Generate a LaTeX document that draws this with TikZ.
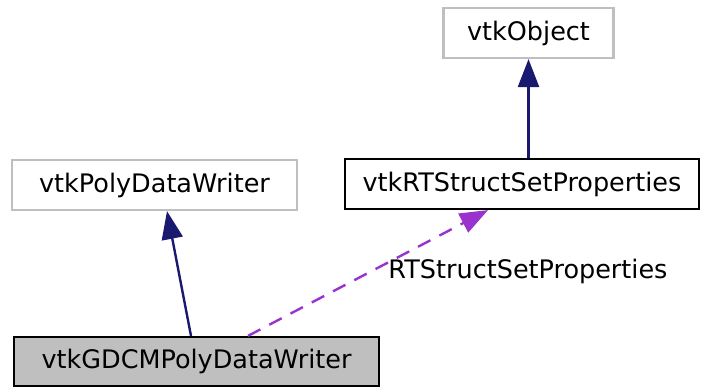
\documentclass[tikz,border=0pt]{standalone}
\usepackage{fontspec}
\setmainfont{DejaVu Sans}
\usetikzlibrary{arrows.meta}
\definecolor{edgenavy}{RGB}{25,25,112}
\definecolor{edgepurple}{RGB}{154,50,205}
\definecolor{boxgray}{RGB}{191,191,191}
\tikzset{
  cls/.style={draw, line width=2.2pt, inner sep=0pt, font=\fontsize{25.5}{30}\selectfont, anchor=center},
  ext/.style={cls, draw=boxgray},
  mine/.style={cls, draw=black},
  self/.style={cls, draw=black, fill=boxgray},
  inh/.style={draw=edgenavy, line width=2.4pt, -{Triangle[length=28pt,width=21pt]}},
  use/.style={draw=edgepurple, line width=2.4pt, dash pattern=on 14pt off 10pt, -{Triangle[length=28pt,width=21pt]}},
  lbl/.style={font=\fontsize{25.5}{30}\selectfont, inner sep=0pt}
}
\begin{document}
\begin{tikzpicture}[x=1pt,y=1pt]
\useasboundingbox (0,0) rectangle (702,388);
\node[ext, minimum width=170pt, minimum height=50pt] (obj) at (528.5,355) {vtkObject};
\node[ext, minimum width=285pt, minimum height=50pt] (pdw) at (154.5,203) {vtkPolyDataWriter};
\node[mine, minimum width=354pt, minimum height=50pt] (rts) at (522,204) {vtkRTStructSetProperties};
\node[self, minimum width=365pt, minimum height=49pt] (gdcm) at (196.5,26.5) {vtkGDCMPolyDataWriter};
\draw[inh] (rts.north -| obj.south) -- (obj.south);
\draw[inh] ([xshift=-5.5pt]gdcm.north) -- ([xshift=12.5pt]pdw.south);
\draw[use] ([xshift=51.5pt]gdcm.north) -- ([xshift=-34pt]rts.south);
\node[lbl] (lab) at (528,117) {RTStructSetProperties};
\end{tikzpicture}
\end{document}
